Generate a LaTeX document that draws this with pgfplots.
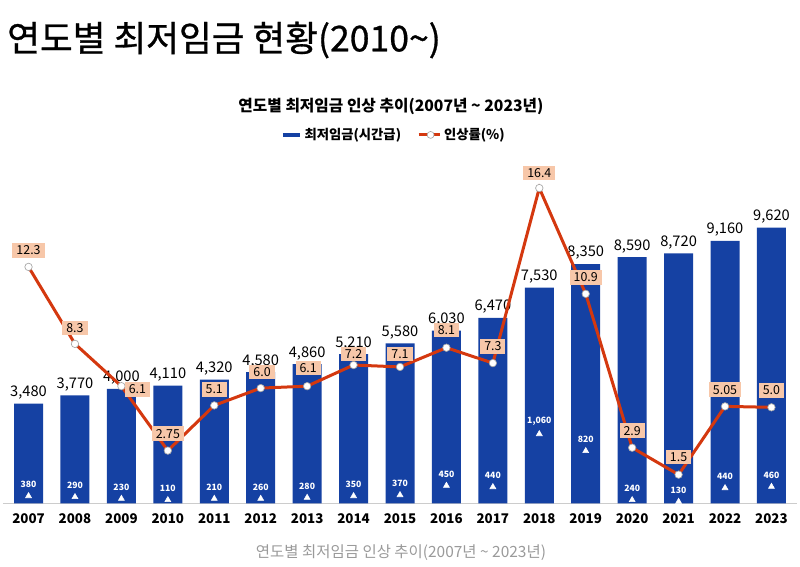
\documentclass[border=0pt]{standalone}
\usepackage{pgfplots}
\pgfplotsset{compat=1.18}
\usepackage{fontspec}
\setmainfont{Noto Sans CJK KR}
\newfontfamily\titlefont[FakeBold=0.8]{Noto Sans CJK KR}
\definecolor{barblue}{HTML}{1541A3}
\definecolor{linered}{HTML}{D4380F}
\definecolor{peach}{HTML}{F7C7A9}
\definecolor{capgray}{HTML}{9A9A9A}

\pgfplotstableread{
x y lab
0 3480 3,480
1 3770 3,770
2 4000 4,000
3 4110 4,110
4 4320 4,320
5 4580 4,580
6 4860 4,860
7 5210 5,210
8 5580 5,580
9 6030 6,030
10 6470 6,470
11 7530 7,530
12 8350 8,350
13 8590 8,590
14 8720 8,720
15 9160 9,160
16 9620 9,620
}\wagetable

\pgfplotstableread{
x y lab
0 261 380
1 227 290
2 167 230
3 122 110
4 167 210
5 167 260
6 202 280
7 261 350
8 296 370
9 621 450
10 575 440
11 2423 1,060
12 1831 820
13 122 240
14 63 130
15 540 440
16 586 460
}\inctable

\pgfplotstableread{
x y lab dx dy
0 12.3 12.3 0 12.5
1 8.3 8.3 0 12
2 6.1 6.1 12 -2.5
3 2.75 2.75 0 12.75
4 5.1 5.1 0 12
5 6.0 6.0 1 12
6 6.1 6.1 0.75 13.5
7 7.2 7.2 0 8.25
8 7.1 7.1 0 9.5
9 8.1 8.1 0 13.25
10 7.3 7.3 0 12.5
11 16.4 16.4 0 11.25
12 10.9 10.9 0 12.25
13 2.9 2.9 0 12.75
14 1.5 1.5 0 13.25
15 5.05 5.05 0 12.5
16 5.0 5.0 0 12.75
}\ratetable

\begin{document}
\begin{tikzpicture}[x=0.75pt,y=0.75pt]
\path[use as bounding box] (0,0) rectangle (800,567);
\node[anchor=west, inner sep=0pt, font=\titlefont\fontsize{26.7}{30}\selectfont] at (7,527) {연도별 최저임금 현황(2010\textasciitilde)};
\node[font=\bfseries\fontsize{11.8}{14}\selectfont] at (391,461) {연도별 최저임금 인상 추이(2007년 \textasciitilde{} 2023년)};
\node[font=\fontsize{11.6}{14}\selectfont, text=capgray] at (401,14) {연도별 최저임금 인상 추이(2007년 \textasciitilde{} 2023년)};

\begin{axis}[
  at={(2.25pt,47.625pt)}, anchor=south west,
  scale only axis, width=595.5pt, height=246.375pt,
  xmin=-0.55, xmax=16.55, ymin=0, ymax=11454,
  clip=false,
  axis y line=none, axis x line*=bottom,
  x axis line style={-, draw=gray!40, line width=0.8pt},
  xtick={0,...,16},
  xticklabels={2007,2008,2009,2010,2011,2012,2013,2014,2015,2016,2017,2018,2019,2020,2021,2022,2023},
  xtick style={draw=none}, major tick length=0pt,
  xticklabel style={font=\bfseries\fontsize{10}{12}\selectfont, yshift=-4pt},
]
\addplot[ybar, fill=barblue, draw=none, bar width=21.75pt,
  nodes near coords, point meta=explicit symbolic,
  every node near coord/.append style={font=\fontsize{11}{13}\selectfont, text=black, anchor=south, inner sep=1pt, yshift=2pt}]
  table[x=x, y=y, meta=lab] {\wagetable};
\addplot[only marks, mark=triangle*, mark size=2.6pt, draw=white, fill=white,
  nodes near coords, point meta=explicit symbolic,
  every node near coord/.append style={font=\bfseries\fontsize{6.5}{8}\selectfont, text=white, anchor=south, inner sep=1pt, yshift=5pt}]
  table[x=x, y=y, meta=lab] {\inctable};
\end{axis}

\begin{axis}[
  at={(2.25pt,47.625pt)}, anchor=south west,
  scale only axis, width=595.5pt, height=246.375pt,
  xmin=-0.55, xmax=16.55, ymin=0, ymax=17.08,
  clip=false, hide axis,
  legend columns=2,
  legend style={draw=none, fill=none, at={(0.4924,1.122)}, anchor=center,
    font=\bfseries\fontsize{10}{12}\selectfont,
    /tikz/every even column/.append style={column sep=10pt}},
]
\addlegendimage{legend image code/.code={\draw[barblue, line width=3.5pt] (0pt,0pt) -- (12.5pt,0pt);}}
\addlegendentry{최저임금(시간급)}
\addplot[linered, line width=2.25pt, mark=*, mark size=2.8pt,
  mark options={fill=white, draw=gray!70, line width=0.5pt},
  legend image code/.code={\draw[linered, line width=2.25pt] (0pt,0pt) -- (16pt,0pt); \draw[fill=white, draw=gray!70, line width=0.5pt] (9pt,0pt) circle (2.6pt);},
  nodes near coords, point meta=explicit symbolic,
  visualization depends on={\thisrow{dx} \as \dx},
  visualization depends on={\thisrow{dy} \as \dy},
  every node near coord/.append style={font=\fontsize{9.3}{11}\selectfont, text=black, fill=peach, anchor=center, inner xsep=3pt, inner ysep=2pt, xshift=\dx pt, yshift=\dy pt}]
  table[x=x, y=y, meta=lab] {\ratetable};
\addlegendentry{인상률(\%)}
\end{axis}
\end{tikzpicture}
\end{document}
